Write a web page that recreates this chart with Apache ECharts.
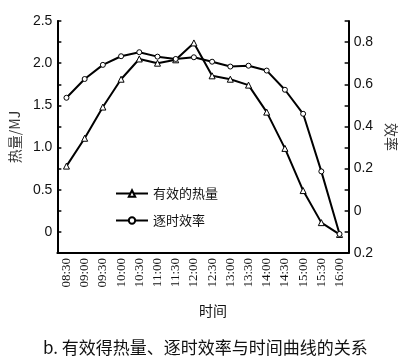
<!DOCTYPE html>
<html><head><meta charset="utf-8">
<script src="https://cdn.jsdelivr.net/npm/echarts@6/dist/echarts.min.js"></script>
<style>html,body{margin:0;padding:0;background:#fff}#c{width:406px;height:362px}</style>
</head><body><div id="c"></div>
<script>
const categories = ['08:30','09:00','09:30','10:00','10:30','11:00','11:30','12:00','12:30','13:00','13:30','14:00','14:30','15:00','15:30','16:00'];
const heatValues = [0.78, 1.11, 1.48, 1.81, 2.05, 2.00, 2.04, 2.24, 1.85, 1.81, 1.74, 1.42, 0.99, 0.49, 0.11, -0.03];
const efficiencyValues = [0.536, 0.625, 0.692, 0.733, 0.752, 0.731, 0.72, 0.728, 0.707, 0.684, 0.688, 0.665, 0.574, 0.46, 0.187, -0.11];
const heatName = '有效的热量';
const effName = '逐时效率';
const numFont = "'Liberation Sans Narrow','Liberation Sans',sans-serif";
const cjkFont = "'Noto Sans CJK SC',sans-serif";

const chart = echarts.init(document.getElementById('c'), null, {renderer:'canvas'});
chart.setOption({
  animation:false,
  backgroundColor:'#fff',
  title:{text:'b. 有效得热量、逐时效率与时间曲线的关系', left:38, top:334,
    textStyle:{fontFamily:cjkFont, fontSize:17, fontWeight:'normal', color:'#111'}},
  graphic:[{type:'text', left:199, top:304, style:{text:'时间', font:"14px 'Noto Sans CJK SC'", fill:'#111'}}],
  legend:{orient:'vertical', left:110, top:182, itemWidth:32, itemHeight:8, itemGap:14,
    textStyle:{fontFamily:cjkFont, fontSize:13, color:'#111'},
    data:[heatName, effName]},
  grid:{left:47, right:49, top:21, bottom:109, containLabel:false},
  xAxis:{type:'category', data:categories, boundaryGap:true,
    axisLine:{onZero:false, lineStyle:{color:'#000', width:2}},
    axisTick:{inside:true, length:4, lineStyle:{color:'#000', width:1.5}, interval:0},
    axisLabel:{rotate:90, interval:0, fontFamily:"'Liberation Serif',serif", fontSize:13, color:'#111', margin:5}},
  yAxis:[
    {type:'value', min:-0.25, max:2.5, interval:0.25, position:'left',
     name:'热量/MJ', nameLocation:'middle', nameGap:30, nameRotate:90,
     nameTextStyle:{fontFamily:cjkFont, fontSize:14, color:'#333'},
     axisLine:{show:true, onZero:false, lineStyle:{color:'#000', width:2}},
     axisTick:{show:true, inside:true, length:4, lineStyle:{color:'#000', width:1.5}},
     splitLine:{show:false},
     axisLabel:{fontFamily:numFont, fontSize:14, color:'#111', margin:5,
       formatter:v=>{const k=Math.round(v*4); if(k%2!==0) return ''; const x=k/4; return x===0?'0':x.toFixed(1);}}},
    {type:'value', min:-0.2, max:0.9, interval:0.1, position:'right',
     name:'效率', nameLocation:'middle', nameGap:32, nameRotate:-90,
     nameTextStyle:{fontFamily:cjkFont, fontSize:14, color:'#333'},
     axisLine:{show:true, onZero:false, lineStyle:{color:'#000', width:2}},
     axisTick:{show:true, inside:true, length:4, lineStyle:{color:'#000', width:1.5}},
     splitLine:{show:false},
     axisLabel:{fontFamily:numFont, fontSize:14, color:'#111', margin:5,
       formatter:v=>{const k=Math.round(v*10); if(k%2!==0) return ''; if(k===0) return '0'; return (Math.abs(k)/10).toFixed(1);}}}
  ],
  series:[
    {name:heatName, type:'line', yAxisIndex:0, data:heatValues, symbol:'triangle', symbolSize:6,
     lineStyle:{color:'#000', width:2}, itemStyle:{color:'#fff', borderColor:'#000', borderWidth:1}},
    {name:effName, type:'line', yAxisIndex:1, data:efficiencyValues, symbol:'circle', symbolSize:5,
     lineStyle:{color:'#000', width:2}, itemStyle:{color:'#fff', borderColor:'#000', borderWidth:1}}
  ]
});
</script></body></html>
